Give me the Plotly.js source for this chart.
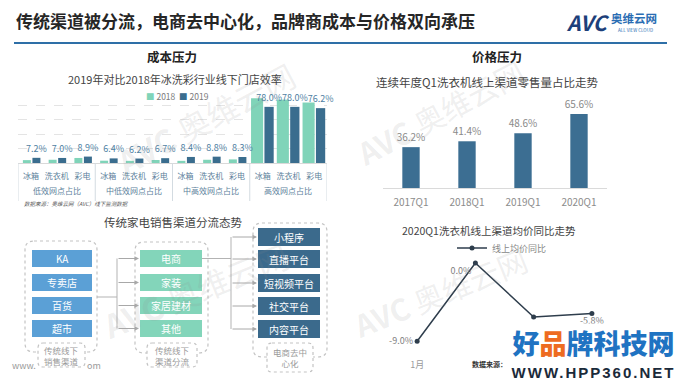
<!DOCTYPE html>
<html><head><meta charset="utf-8">
<script src="https://cdn.plot.ly/plotly-3.0.1.min.js"></script>
<style>html,body{margin:0;padding:0;background:#fff}#chart{width:680px;height:383px}</style>
</head><body><div id="chart"></div>
<script>
// ---------- data ----------
const groupLabels = ['低效网点占比','中低效网点占比','中高效网点占比','高效网点占比'];
const applianceLabels = ['冰箱','洗衣机','彩电'];
const share2018 = [4.0,4.5,7.0, 3.2,3.0,4.2, 3.0,4.5,5.0, 89.8,88.0,84.0];
const share2019 = [7.2,7.0,8.9, 6.4,6.2,6.7, 8.4,8.8,8.3, 78.0,78.0,76.2];

const quarters = ['2017Q1','2018Q1','2019Q1','2020Q1'];
const onlineShare = [36.2,41.4,48.6,65.6];

const months = ['1月','2月','3月','Q1'];
const priceYoY = [-9.0,0.0,-6.2,-5.8];

const offlineChannels = ['KA','专卖店','百货','超市'];
const divertedChannels = ['电商','家装','家居建材','其他'];
const decentralChannels = ['小程序','直播平台','短视频平台','社交平台','内容平台'];
const stageLabels = ['传统线下<br>销售渠道','传统线下<br>渠道分流','电商去中<br>心化'];

// ---------- helpers ----------
const W = 680, H = 383;
const X = p => p / W, Y = p => 1 - p / H;
const FONT = '"Noto Sans CJK SC", "Noto Sans", sans-serif';
function rr(x0, y0, x1, y1, r) {
  const P = (x, y) => X(x) + ',' + Y(y);
  return 'M' + P(x0 + r, y0) + ' L' + P(x1 - r, y0) + ' Q' + P(x1, y0) + ' ' + P(x1, y0 + r) +
    ' L' + P(x1, y1 - r) + ' Q' + P(x1, y1) + ' ' + P(x1 - r, y1) +
    ' L' + P(x0 + r, y1) + ' Q' + P(x0, y1) + ' ' + P(x0, y1 - r) +
    ' L' + P(x0, y0 + r) + ' Q' + P(x0, y0) + ' ' + P(x0 + r, y0) + ' Z';
}
function txt(text, x, y, size, color, extra) {
  return Object.assign({text: text, x: X(x), y: Y(y), xref: 'paper', yref: 'paper', showarrow: false,
    xanchor: 'center', yanchor: 'middle', font: {family: FONT, size: size, color: color}}, extra || {});
}

// ---------- traces ----------
const groupRep = groupLabels.flatMap(g => applianceLabels.map(() => g));
const catRep = groupLabels.flatMap(() => applianceLabels);
const catPos = catRep.map((_, i) => i);
const isHigh = groupRep.map(g => g === groupLabels[3]);

const traces = [
  {type: 'bar', name: '2018', x: catPos, y: share2018, xaxis: 'x', yaxis: 'y',
   marker: {color: '#80d4b9'}, width: isHigh.map(h => h ? 0.47 : 0.31),
   offset: isHigh.map(h => h ? -0.45 : -0.31), showlegend: false, hoverinfo: 'y'},
  {type: 'bar', name: '2019', x: catPos, y: share2019, xaxis: 'x', yaxis: 'y',
   marker: {color: '#3a6d8e'}, width: isHigh.map(h => h ? 0.36 : 0.31),
   offset: isHigh.map(h => h ? 0.07 : 0.06), showlegend: false,
   text: share2019.map(v => v.toFixed(1) + '%'), textposition: 'outside', cliponaxis: false,
   constraintext: 'none', textfont: {family: FONT, size: 9, color: '#4f7fa3'}, hoverinfo: 'y'},
  {type: 'bar', x: quarters, y: onlineShare, xaxis: 'x2', yaxis: 'y2', width: 0.31,
   marker: {color: '#3c6e92'}, showlegend: false, constraintext: 'none',
   text: onlineShare.map(v => v.toFixed(1) + '%'), textposition: 'outside', cliponaxis: false,
   textfont: {family: FONT, size: 10, color: '#8a8a8a'}},
  {type: 'scatter', mode: 'lines+markers+text', name: '线上均价同比', x: months, y: priceYoY,
   xaxis: 'x3', yaxis: 'y3', line: {color: '#2e3d4c', width: 1.5}, marker: {color: '#2e3d4c', size: 5},
   text: priceYoY.map((v, i) => i === 2 ? '' : v.toFixed(1) + '%'),
   textposition: ['middle left','bottom left','bottom center','bottom center'],
   textfont: {family: FONT, size: 9, color: '#808080'}, cliponaxis: false}
];

// ---------- shapes ----------
const shapes = [
  {type: 'line', xref: 'paper', yref: 'paper', x0: X(14), x1: X(667), y0: Y(43), y1: Y(43),
   line: {color: '#2e6fa7', width: 2}}
];
// group dividers of the left chart (at group boundaries of the category axis)
for (let g = 0; g <= groupLabels.length; g++) {
  const xb = g * applianceLabels.length - 0.5;
  shapes.push({type: 'line', xref: 'x', yref: 'paper', x0: xb, x1: xb, y0: Y(163), y1: Y(201),
    line: {color: '#d3dbe1', width: 1}});
}
const dashed = {color: '#c3c3c3', width: 1.2, dash: 'dot'};
[[25,241,97,352],[135,242,208,353],[253,223,327,357]].forEach(b =>
  shapes.push({type: 'path', xref: 'paper', yref: 'paper', path: rr(b[0], b[1], b[2], b[3], 9), line: dashed}));
const labelBoxes = [[38,343,85,367],[147,343,197,367],[267,343,313,372]];
labelBoxes.forEach(b =>
  shapes.push({type: 'path', xref: 'paper', yref: 'paper', path: rr(b[0], b[1], b[2], b[3], 5),
   line: dashed, fillcolor: '#ffffff'}));

const columns = [
  {names: offlineChannels, x0: 32, x1: 92, ys: [250,274,297,320], h: 17, color: '#5ba0d6'},
  {names: divertedChannels, x0: 140, x1: 202, ys: [250,274,297,320], h: 17, color: '#83d5ba'},
  {names: decentralChannels, x0: 258, x1: 320, ys: [228,250,274,297,320], h: 18, color: '#3b6a8c'}
];
const annotations = [];
columns.forEach(c => c.names.forEach((n, i) => {
  const y0 = c.ys[i];
  shapes.push({type: 'rect', xref: 'paper', yref: 'paper', x0: X(c.x0), x1: X(c.x1), y0: Y(y0), y1: Y(y0 + c.h),
    line: {width: 0}, fillcolor: c.color});
  annotations.push(txt(n, (c.x0 + c.x1) / 2, y0 + c.h / 2, 10, '#ffffff'));
}));
const conn = {color: '#b3b3b3', width: 1};
const seg = (x0, y0, x1, y1) => shapes.push({type: 'line', xref: 'paper', yref: 'paper',
  x0: X(x0), x1: X(x1), y0: Y(y0), y1: Y(y1), line: conn});
seg(97, 297, 117, 297); seg(117, 258.5, 117, 328.5);
seg(202, 258.5, 231, 258.5); seg(231, 237, 231, 329);
const arrow = (xt, xh, y) => annotations.push({x: X(xh), y: Y(y), xref: 'paper', yref: 'paper', text: '',
  showarrow: true, ax: -(xh - xt), ay: 0, arrowhead: 2, arrowsize: 0.9, arrowwidth: 1, arrowcolor: '#a8a8a8', standoff: 0});
columns[1].ys.forEach(y => arrow(117, 139, y + 8.5));
columns[2].ys.forEach(y => arrow(231, 257, y + 9));

// ---------- texts ----------
const wm = 'rgba(140,140,140,0.14)';
annotations.unshift(
  txt('<b>AVC</b> 奥维云网', 205, 118, 32, wm, {textangle: -28}),
  txt('<b>AVC</b> 奥维云网', 440, 112, 30, wm, {textangle: -28}),
  txt('<b>AVC</b> 奥维云网', 195, 290, 32, wm, {textangle: -22}),
  txt('<b>AVC</b> 奥维云网', 440, 292, 30, wm, {textangle: -22})
);
// group labels under the left chart
groupLabels.forEach((g, i) => annotations.push({text: g, x: i * applianceLabels.length + (applianceLabels.length - 1) / 2,
  xref: 'x', y: Y(191), yref: 'paper', showarrow: false, xanchor: 'center', yanchor: 'middle',
  font: {family: FONT, size: 8, color: '#5d7f9b'}}));
annotations.push(
  txt('传统渠道被分流，电商去中心化，品牌商成本与价格双向承压', 14, 20, 17, '#262626', {xanchor: 'left', font: {family: FONT, size: 17, color: '#262626', weight: 700}}),
  txt('<b><i>AVC</i></b>', 588, 22, 21, '#1d3f7a'),
  txt('<b>奥维云网</b>', 634, 18, 11.5, '#2a6db3'),
  txt('ALL VIEW CLOUD', 635, 30, 4.5, '#2a6db3'),
  txt('<b>成本压力</b>', 172, 56, 12.5, '#222'),
  txt('2019年对比2018年冰洗彩行业线下门店效率', 175, 79, 11, '#444'),
  txt('<span style="color:#80d4b9">■</span> 2018  <span style="color:#3a6d8e">■</span> 2019', 177, 96, 8.5, '#7a7a7a'),
  txt('<i>数据来源：奥维云网（AVC）线下监测数据</i>', 22, 204, 5.5, '#555', {xanchor: 'left'}),
  txt('传统家电销售渠道分流态势', 173, 222, 11.5, '#444'),
  txt('<b>价格压力</b>', 497, 57, 12.5, '#222'),
  txt('连续年度Q1洗衣机线上渠道零售量占比走势', 487, 82, 11.5, '#444'),
  txt('2020Q1洗衣机线上渠道均价同比走势', 489, 230, 10.5, '#444'),
  txt('www.', 10, 365, 9, '#9a9a9a', {xanchor: 'left'}),
  txt('om', 85, 365, 9, '#9a9a9a', {xanchor: 'left'})
);
labelBoxes.forEach((b, i) => annotations.push(txt(stageLabels[i], (b[0] + b[2]) / 2, (b[1] + b[3]) / 2, 8.5, '#9a9a9a')));
annotations.push(
  txt('<b>数据来源：</b>', 470, 364, 7, '#333', {xanchor: 'left'}),
  {text: '<span style="color:#1f73c2">好</span><span style="color:#ee6b20">品</span><span style="color:#1f73c2">牌科技网</span>',
   x: X(505), y: Y(323), xref: 'paper', yref: 'paper', xanchor: 'left', yanchor: 'top', showarrow: false,
   width: 175, height: 38, bgcolor: '#ffffff', borderpad: 0, align: 'center', valign: 'bottom',
   font: {family: FONT, size: 27, color: '#1f73c2', weight: 900}},
  {text: '<span style="letter-spacing:2px">WWW.HPP360.NET</span>',
   x: X(505), y: Y(361), xref: 'paper', yref: 'paper', xanchor: 'left', yanchor: 'top', showarrow: false,
   width: 175, height: 20, bgcolor: '#ffffff', borderpad: 0, align: 'center', valign: 'middle',
   font: {family: '"Liberation Sans", Arial, sans-serif', size: 15, color: '#1b2a3a', weight: 700}}
);

// ---------- layout ----------
const layout = {
  width: W, height: H, margin: {l: 0, r: 0, t: 0, b: 0},
  paper_bgcolor: '#ffffff', plot_bgcolor: 'rgba(0,0,0,0)',
  font: {family: FONT, color: '#666'},
  barmode: 'overlay',
  xaxis: {domain: [X(18), X(327)], anchor: 'y', range: [-0.5, catRep.length - 0.5],
    tickvals: catPos, ticktext: catRep, showgrid: false, zeroline: false,
    showline: true, linecolor: '#d9d9d9', ticks: '', tickangle: 0, ticklabelstandoff: 5,
    tickfont: {family: FONT, size: 8, color: '#5d7f9b'}},
  yaxis: {domain: [Y(163), Y(91)], range: [0, 100], dtick: 20, anchor: 'x', gridcolor: '#e4e4e4',
    griddash: 'dash', showticklabels: false, zeroline: false},
  xaxis2: {domain: [X(383), X(607)], type: 'category', anchor: 'y2', range: [-0.5, 3.5], showline: true,
    linecolor: '#dadada', ticks: '', ticklabelstandoff: 5, tickfont: {family: FONT, size: 10, color: '#8c8c8c'}},
  yaxis2: {domain: [Y(188), Y(109)], range: [0, 70], anchor: 'x2', visible: false},
  xaxis3: {domain: [X(388), X(621)], type: 'category', anchor: 'y3', range: [-0.5, 3.5], showline: false,
    showgrid: false, ticks: '', tickvals: [months[0]], ticklabelstandoff: 8,
    tickfont: {family: FONT, size: 9, color: '#9a9a9a'}},
  yaxis3: {domain: [Y(350), Y(263)], range: [-10, 0], anchor: 'x3', tickvals: [0], showticklabels: false,
    gridcolor: '#e6e6e6', zeroline: false},
  showlegend: true,
  legend: {x: X(452), y: Y(248), xanchor: 'left', yanchor: 'middle', bgcolor: 'rgba(0,0,0,0)',
    font: {family: FONT, size: 9, color: '#888'}},
  shapes: shapes,
  annotations: annotations
};

Plotly.newPlot('chart', traces, layout, {displayModeBar: false, staticPlot: true});
</script></body></html>
